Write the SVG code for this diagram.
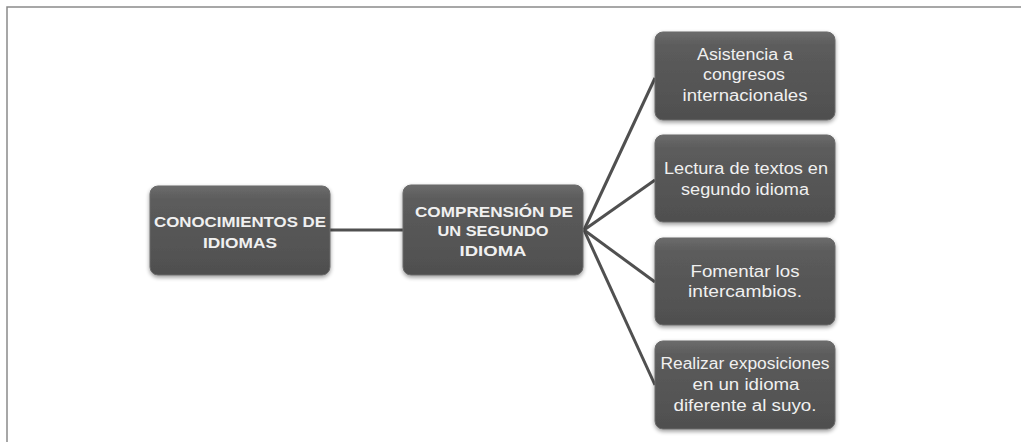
<svg xmlns="http://www.w3.org/2000/svg" width="1021" height="442" viewBox="0 0 1021 442">
<style>
.box{fill:url(#g);stroke:#6a6a6a;stroke-width:1;filter:url(#sh)}
.t{font-family:"Liberation Sans Narrow","Liberation Sans",Arial,sans-serif;fill:#f0f0f0;text-anchor:middle;font-size:16px}
.b{font-weight:bold;font-size:15px}
.c{stroke:#505050;stroke-width:3;fill:none}
</style>
<defs>
<linearGradient id="g" x1="0" y1="0" x2="0" y2="1">
<stop offset="0" stop-color="#6c6c6c"/>
<stop offset="0.15" stop-color="#5c5c5c"/>
<stop offset="1" stop-color="#4f4f4f"/>
</linearGradient>
<filter id="sh" x="-10%" y="-10%" width="120%" height="130%">
<feGaussianBlur in="SourceAlpha" stdDeviation="2"/>
<feOffset dy="2"/>
<feComponentTransfer><feFuncA type="linear" slope="0.4"/></feComponentTransfer>
<feMerge><feMergeNode/><feMergeNode in="SourceGraphic"/></feMerge>
</filter>
</defs>
<rect width="1021" height="442" fill="#ffffff"/>
<path d="M7,442 V7 H1021" stroke="#8a8a8a" stroke-width="1.5" fill="none"/>
<g id="connectors">
<line class="c" x1="330" y1="230" x2="403" y2="230"/>
<line class="c" x1="584" y1="230" x2="655" y2="78"/>
<line class="c" x1="584" y1="230" x2="655" y2="180"/>
<line class="c" x1="584" y1="230" x2="655" y2="282"/>
<line class="c" x1="584" y1="230" x2="655" y2="385"/>
</g>
<g id="n1">
<rect class="box" x="150" y="186" width="180" height="89" rx="8"/>
<text class="t b" x="240" y="227" textLength="172" lengthAdjust="spacingAndGlyphs">CONOCIMIENTOS DE</text>
<text class="t b" x="240" y="248" textLength="74" lengthAdjust="spacingAndGlyphs">IDIOMAS</text>
</g>
<g id="n2">
<rect class="box" x="403" y="185" width="180" height="90" rx="8"/>
<text class="t b" x="494" y="217" textLength="158" lengthAdjust="spacingAndGlyphs">COMPRENSIÓN  DE</text>
<text class="t b" x="493" y="236" textLength="111" lengthAdjust="spacingAndGlyphs">UN SEGUNDO</text>
<text class="t b" x="493" y="256" textLength="67" lengthAdjust="spacingAndGlyphs">IDIOMA</text>
</g>
<g id="n3">
<rect class="box" x="655" y="32" width="180" height="88" rx="8"/>
<text class="t" x="745" y="60" textLength="96" lengthAdjust="spacingAndGlyphs">Asistencia a</text>
<text class="t" x="744" y="80" textLength="82" lengthAdjust="spacingAndGlyphs">congresos</text>
<text class="t" x="745" y="101" textLength="125" lengthAdjust="spacingAndGlyphs">internacionales</text>
</g>
<g id="n4">
<rect class="box" x="655" y="135" width="180" height="87" rx="8"/>
<text class="t" x="746" y="174" textLength="164" lengthAdjust="spacingAndGlyphs">Lectura de textos en</text>
<text class="t" x="745" y="195" textLength="128" lengthAdjust="spacingAndGlyphs">segundo idioma</text>
</g>
<g id="n5">
<rect class="box" x="655" y="238" width="180" height="87" rx="8"/>
<text class="t" x="745" y="277" textLength="109" lengthAdjust="spacingAndGlyphs">Fomentar los</text>
<text class="t" x="745" y="297" textLength="114" lengthAdjust="spacingAndGlyphs">intercambios.</text>
</g>
<g id="n6">
<rect class="box" x="655" y="341" width="180" height="88" rx="8"/>
<text class="t" x="745" y="369" textLength="169" lengthAdjust="spacingAndGlyphs">Realizar exposiciones</text>
<text class="t" x="746" y="390" textLength="107" lengthAdjust="spacingAndGlyphs">en un idioma</text>
<text class="t" x="745" y="411" textLength="143" lengthAdjust="spacingAndGlyphs">diferente al suyo.</text>
</g>
</svg>
